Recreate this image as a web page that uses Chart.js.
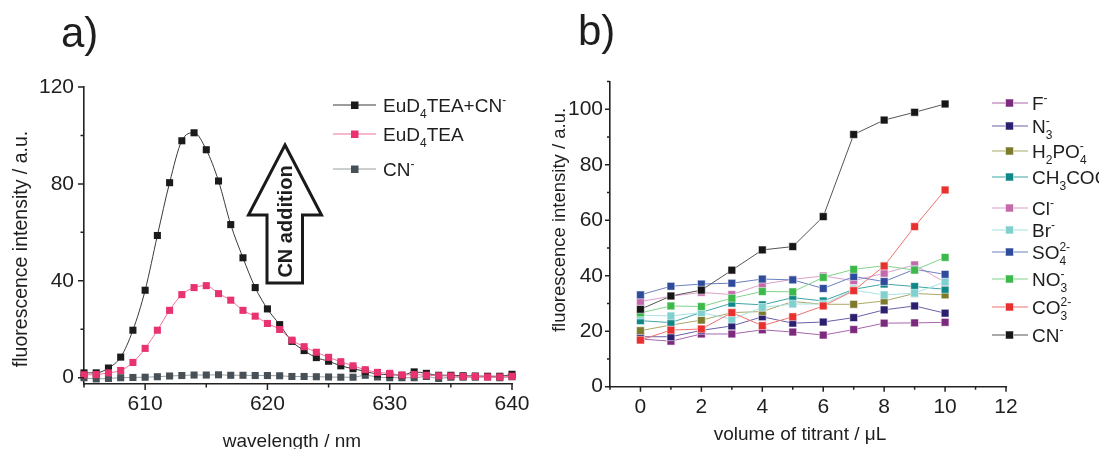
<!DOCTYPE html>
<html>
<head>
<meta charset="utf-8">
<script src="https://cdn.jsdelivr.net/npm/chart.js@4/dist/chart.umd.min.js"></script>
<style>
  body { margin: 0; background: #fff; }
  #page { position: relative; width: 1099px; height: 449px; overflow: hidden; background: #fff; }
  canvas { position: absolute; top: 0; }
  #chartA { left: 0; }
  #chartB { left: 540px; }
  #overlay { position: absolute; left: 0; top: 0; pointer-events: none; }
  #overlay text { font-family: "Liberation Sans", Arial, sans-serif; fill: #1e1e1e; }
</style>
</head>
<body>
<div id="page">
  <canvas id="chartA" width="540" height="449"></canvas>
  <canvas id="chartB" width="559" height="449"></canvas>
  <svg id="overlay" width="1099" height="449"></svg>
</div>
<script>
// panel a: emission spectra
const wavelength = [605, 606, 607, 608, 609, 610, 611, 612, 613, 614, 615, 616, 617, 618, 619, 620, 621, 622,
  623, 624, 625, 626, 627, 628, 629, 630, 631, 632, 633, 634, 635, 636, 637, 638, 639, 640];
const euTeaCn = [2.0, 2.0, 4.0, 8.5, 19.6, 36.1, 58.7, 80.5, 97.8, 101.1, 94.1, 81.2, 63.2, 49.5, 37.2, 28.4, 21.9, 15.0,
  11.2, 8.3, 6.8, 4.9, 3.7, 2.6, 1.5, 1.3, 1.0, 2.4, 1.8, 1.0, 1.0, 0.8, 0.7, 0.6, 0.6, 1.4];
const euTea = [1.2, 1.3, 2.0, 3.0, 6.3, 12.1, 19.6, 27.8, 34.3, 37.2, 38.0, 34.7, 32.0, 27.8, 25.4, 22.4, 19.9, 15.5,
  12.8, 10.5, 8.4, 6.6, 4.9, 3.3, 2.2, 1.8, 1.1, 1.3, 1.0, 0.8, 0.7, 0.5, 0.5, 0.3, 0.3, 0.6];
const cnOnly = [0.0, -0.5, -0.3, 0.0, 0.1, 0.2, 0.4, 0.7, 0.9, 1.1, 1.1, 1.2, 1.0, 1.0, 0.9, 0.9, 0.8, 0.5,
  0.5, 0.4, 0.3, 0.2, 0.2, 1.0, 0.3, 0.0, 0.0, 0.0, 0.5, -0.3, 0.2, 0.2, 0.2, 0.3, 0.0, 0.4];
const spectraNames = ['EuD₄TEA+CN⁻', 'EuD₄TEA', 'CN⁻'];
const aWavelengthTicks = [605, 610, 615, 620, 625, 630, 635, 640];
const aIntensityTicks = [0, 20, 40, 60, 80, 100, 120];

// panel b: titration with anions
const titrantVolume = [0, 1, 2, 3, 4, 5, 6, 7, 8, 9, 10];
const fluorideVals = [17.2, 16.4, 19.0, 19.0, 20.5, 19.7, 18.6, 20.6, 22.9, 23.0, 23.2];
const azideVals = [18.0, 18.0, 20.3, 21.9, 25.2, 22.9, 23.3, 24.9, 27.7, 29.1, 26.5];
const phosphateVals = [20.2, 22.2, 24.0, 26.7, 27.1, 30.7, 29.7, 29.7, 30.9, 33.6, 33.1];
const acetateVals = [23.8, 23.1, 26.8, 30.1, 29.5, 32.1, 30.9, 35.1, 37.0, 36.1, 35.1];
const chlorideVals = [30.7, 32.6, 34.0, 33.2, 36.9, 38.7, 39.9, 38.2, 40.9, 43.9, 37.6];
const bromideVals = [25.8, 25.5, 26.7, 24.3, 28.6, 29.8, 29.8, 34.8, 33.1, 33.7, 37.8];
const sulfateVals = [33.1, 36.2, 37.0, 37.3, 38.8, 38.5, 35.4, 39.7, 37.9, 42.3, 40.5];
const nitrateVals = [26.6, 29.1, 28.9, 31.9, 34.3, 34.2, 39.4, 42.3, 43.6, 42.0, 46.6];
const carbonateVals = [16.8, 20.4, 20.8, 26.7, 22.0, 25.2, 29.1, 34.6, 43.5, 57.7, 70.9];
const cyanideVals = [27.9, 32.7, 34.8, 42.0, 49.3, 50.5, 61.3, 90.9, 96.1, 98.9, 101.9];
const anionNames = ['F⁻', 'N₃⁻', 'H₂PO₄⁻', 'CH₃COO⁻', 'Cl⁻', 'Br⁻', 'SO₄²⁻', 'NO₃⁻', 'CO₃²⁻', 'CN⁻'];
const bVolumeTicks = [-1, 0, 1, 2, 3, 4, 5, 6, 7, 8, 9, 10, 11, 12];
const bIntensityTicks = [0, 10, 20, 30, 40, 50, 60, 70, 80, 90, 100, 110];

// styles
const spectraColors = ['#1b1b1b', '#e8336f', '#465056'];
const spectraLines = ['#3a3a3a', '#f0709c', '#9a9fa2'];
const anionColors = ['#7c2a7e', '#2b1f70', '#7e7a2c', '#0f8787', '#c46aaa', '#80d0d0', '#2f4b9b', '#3db84a', '#e8312f', '#161616'];
const anionLines = ['#a866aa', '#6a60a8', '#aaa766', '#3fa5a5', '#dca0cc', '#a8e2e2', '#6c80c0', '#7fd48a', '#f07070', '#555555'];

Chart.defaults.font.family = '"Liberation Sans", Arial, sans-serif';
Chart.defaults.font.size = 21;
Chart.defaults.color = '#1e1e1e';

// draws outward tick marks, long for labelled ticks and short for the others
const tickMarks = {
  id: 'tickMarks',
  afterDraw(chart, args, opts) {
    const ctx = chart.ctx;
    const area = chart.chartArea;
    ctx.save();
    ctx.strokeStyle = '#222';
    ctx.lineWidth = 1.5;
    ctx.beginPath();
    chart.scales.x.ticks.forEach(t => {
      const p = chart.scales.x.getPixelForValue(t.value);
      const len = t.label !== '' ? opts.major : opts.minor;
      ctx.moveTo(p, area.bottom);
      ctx.lineTo(p, area.bottom + len);
    });
    chart.scales.y.ticks.forEach(t => {
      const p = chart.scales.y.getPixelForValue(t.value);
      const len = t.label !== '' ? opts.major : opts.minor;
      ctx.moveTo(area.left, p);
      ctx.lineTo(area.left - len, p);
    });
    ctx.stroke();
    ctx.restore();
  }
};

function axis(min, max, values, showLabel, fit, tickLen, pad) {
  return {
    type: 'linear',
    min: min,
    max: max,
    afterBuildTicks: s => { s.ticks = values.map(v => ({ value: v })); },
    afterFit: fit,
    grid: { drawOnChartArea: false, color: 'rgba(0,0,0,0)', tickLength: tickLen },
    border: { display: true, color: '#222', width: 1.6 },
    ticks: {
      autoSkip: false,
      maxRotation: 0,
      padding: pad,
      color: '#1e1e1e',
      callback: v => showLabel(v) ? String(v) : ''
    }
  };
}

function points(xs, ys) {
  return xs.map((x, i) => ({ x: x, y: ys[i] }));
}

// chart a
const spectra = [euTeaCn, euTea, cnOnly];
const orderA = [1, 0, 2];
new Chart(document.getElementById('chartA'), {
  type: 'line',
  data: {
    datasets: spectra.map((s, i) => ({
      label: spectraNames[i],
      data: points(wavelength, s),
      borderColor: spectraLines[i],
      borderWidth: 1,
      pointStyle: 'rect',
      pointRadius: 5,
      pointBorderWidth: 0,
      pointBackgroundColor: spectraColors[i],
      backgroundColor: spectraColors[i],
      cubicInterpolationMode: 'monotone',
      clip: false,
      order: orderA[i]
    }))
  },
  options: {
    responsive: false,
    animation: false,
    events: [],
    layout: { padding: { left: 0, top: 87, right: 28, bottom: 0 } },
    plugins: { legend: { display: false }, tooltip: { enabled: false }, tickMarks: { major: 6, minor: 3.5 } },
    scales: {
      x: axis(605, 640, aWavelengthTicks, v => v % 10 === 0, s => { s.height = 65; }, 6, 2),
      y: axis(-2.6, 120, aIntensityTicks, v => v % 40 === 0, s => { s.width = 84; }, 6, 4)
    }
  },
  plugins: [tickMarks]
});

// chart b
const anionSeries = [fluorideVals, azideVals, phosphateVals, acetateVals, chlorideVals, bromideVals,
  sulfateVals, nitrateVals, carbonateVals, cyanideVals];
new Chart(document.getElementById('chartB'), {
  type: 'line',
  data: {
    datasets: anionSeries.map((s, i) => ({
      label: anionNames[i],
      data: points(titrantVolume, s),
      borderColor: anionLines[i],
      borderWidth: 1,
      pointStyle: 'rect',
      pointRadius: 5.5,
      pointBorderWidth: 1,
      pointBorderColor: 'rgba(255,255,255,0.55)',
      pointBackgroundColor: anionColors[i],
      backgroundColor: anionColors[i],
      tension: 0,
      clip: false,
      order: anionSeries.length - i
    }))
  },
  options: {
    responsive: false,
    animation: false,
    events: [],
    layout: { padding: { left: 0, top: 81.5, right: 93, bottom: 0 } },
    plugins: { legend: { display: false }, tooltip: { enabled: false }, tickMarks: { major: 5, minor: 3 } },
    scales: {
      x: axis(-1, 12, bVolumeTicks, v => v >= 0 && v % 2 === 0, s => { s.height = 62.3; }, 5, 3),
      y: axis(0, 110, bIntensityTicks, v => v % 20 === 0 && v <= 100, s => { s.width = 70; }, 5, 2)
    }
  },
  plugins: [tickMarks]
});

// text overlay: panel letters, axis titles, legends, arrow
const SUB = { '₀': '0', '₁': '1', '₂': '2', '₃': '3', '₄': '4', '₅': '5', '₆': '6', '₇': '7', '₈': '8', '₉': '9' };
const SUP = { '⁻': '-', '²': '2', '³': '3' };

function richTspans(str, size) {
  const small = Math.round(size * 0.63);
  const runs = [];
  for (const ch of str) {
    const type = SUB[ch] !== undefined ? 'sub' : SUP[ch] !== undefined ? 'sup' : 'n';
    const c = type === 'sub' ? SUB[ch] : type === 'sup' ? SUP[ch] : ch;
    const last = runs[runs.length - 1];
    if (last && last.type === type) last.text += c;
    else runs.push({ type: type, text: c });
  }
  const shift = { n: 0, sub: size * 0.3, sup: -size * 0.42 };
  let cur = 0, prev = null, out = '';
  runs.forEach(r => {
    const dy = shift[r.type] - cur;
    cur = shift[r.type];
    let dx = 0;
    if (r.type === 'sup' && prev && prev.type === 'sub') dx = -prev.text.length * 0.556 * small;
    out += `<tspan dy="${dy.toFixed(1)}"${dx ? ` dx="${dx.toFixed(1)}"` : ''} font-size="${r.type === 'n' ? size : small}">${r.text}</tspan>`;
    prev = r;
  });
  return out;
}

let svg = '';
svg += '<text x="61" y="47" font-size="42">a)</text>';
svg += '<text x="578" y="45" font-size="42">b)</text>';
svg += '<text transform="translate(27,249) rotate(-90)" text-anchor="middle" font-size="19.5">fluorescence intensity / a.u.</text>';
svg += '<text transform="translate(565,220) rotate(-90)" text-anchor="middle" font-size="18.5">fluorescence intensity / a.u.</text>';
svg += '<text x="292" y="447" text-anchor="middle" font-size="19">wavelength / nm</text>';
svg += '<text x="800" y="440" text-anchor="middle" font-size="19">volume of titrant / μL</text>';

// legend a
const legendAY = [105, 134, 169];
spectraNames.forEach((name, i) => {
  const y = legendAY[i];
  svg += `<line x1="333" y1="${y}" x2="376" y2="${y}" stroke="${spectraLines[i]}" stroke-width="1.2"/>`;
  svg += `<rect x="351" y="${y - 3.5}" width="7.5" height="7.5" fill="${spectraColors[i]}"/>`;
  svg += `<text x="383" y="${y + 7}">${richTspans(name, 19)}</text>`;
});

// legend b
const legendBY = [103, 126, 151, 177, 208, 230, 252, 279, 307, 335];
anionNames.forEach((name, i) => {
  const y = legendBY[i];
  svg += `<line x1="992" y1="${y}" x2="1028" y2="${y}" stroke="${anionLines[i]}" stroke-width="1.2"/>`;
  svg += `<rect x="1005.5" y="${y - 4}" width="8" height="8" fill="${anionColors[i]}" stroke="rgba(255,255,255,0.55)" stroke-width="1"/>`;
  svg += `<text x="1032" y="${y + 7}">${richTspans(name, 19)}</text>`;
});

// hollow arrow with label
svg += '<polygon points="285,145 321.5,215 302.5,215 302.5,283 267,283 267,215 248.5,215" fill="#fff" stroke="#1a1a1a" stroke-width="3" stroke-linejoin="miter"/>';
svg += '<text transform="translate(292,221.5) rotate(-90)" text-anchor="middle" font-size="20" font-weight="bold">CN addition</text>';

document.getElementById('overlay').innerHTML = svg;
</script>
</body>
</html>
